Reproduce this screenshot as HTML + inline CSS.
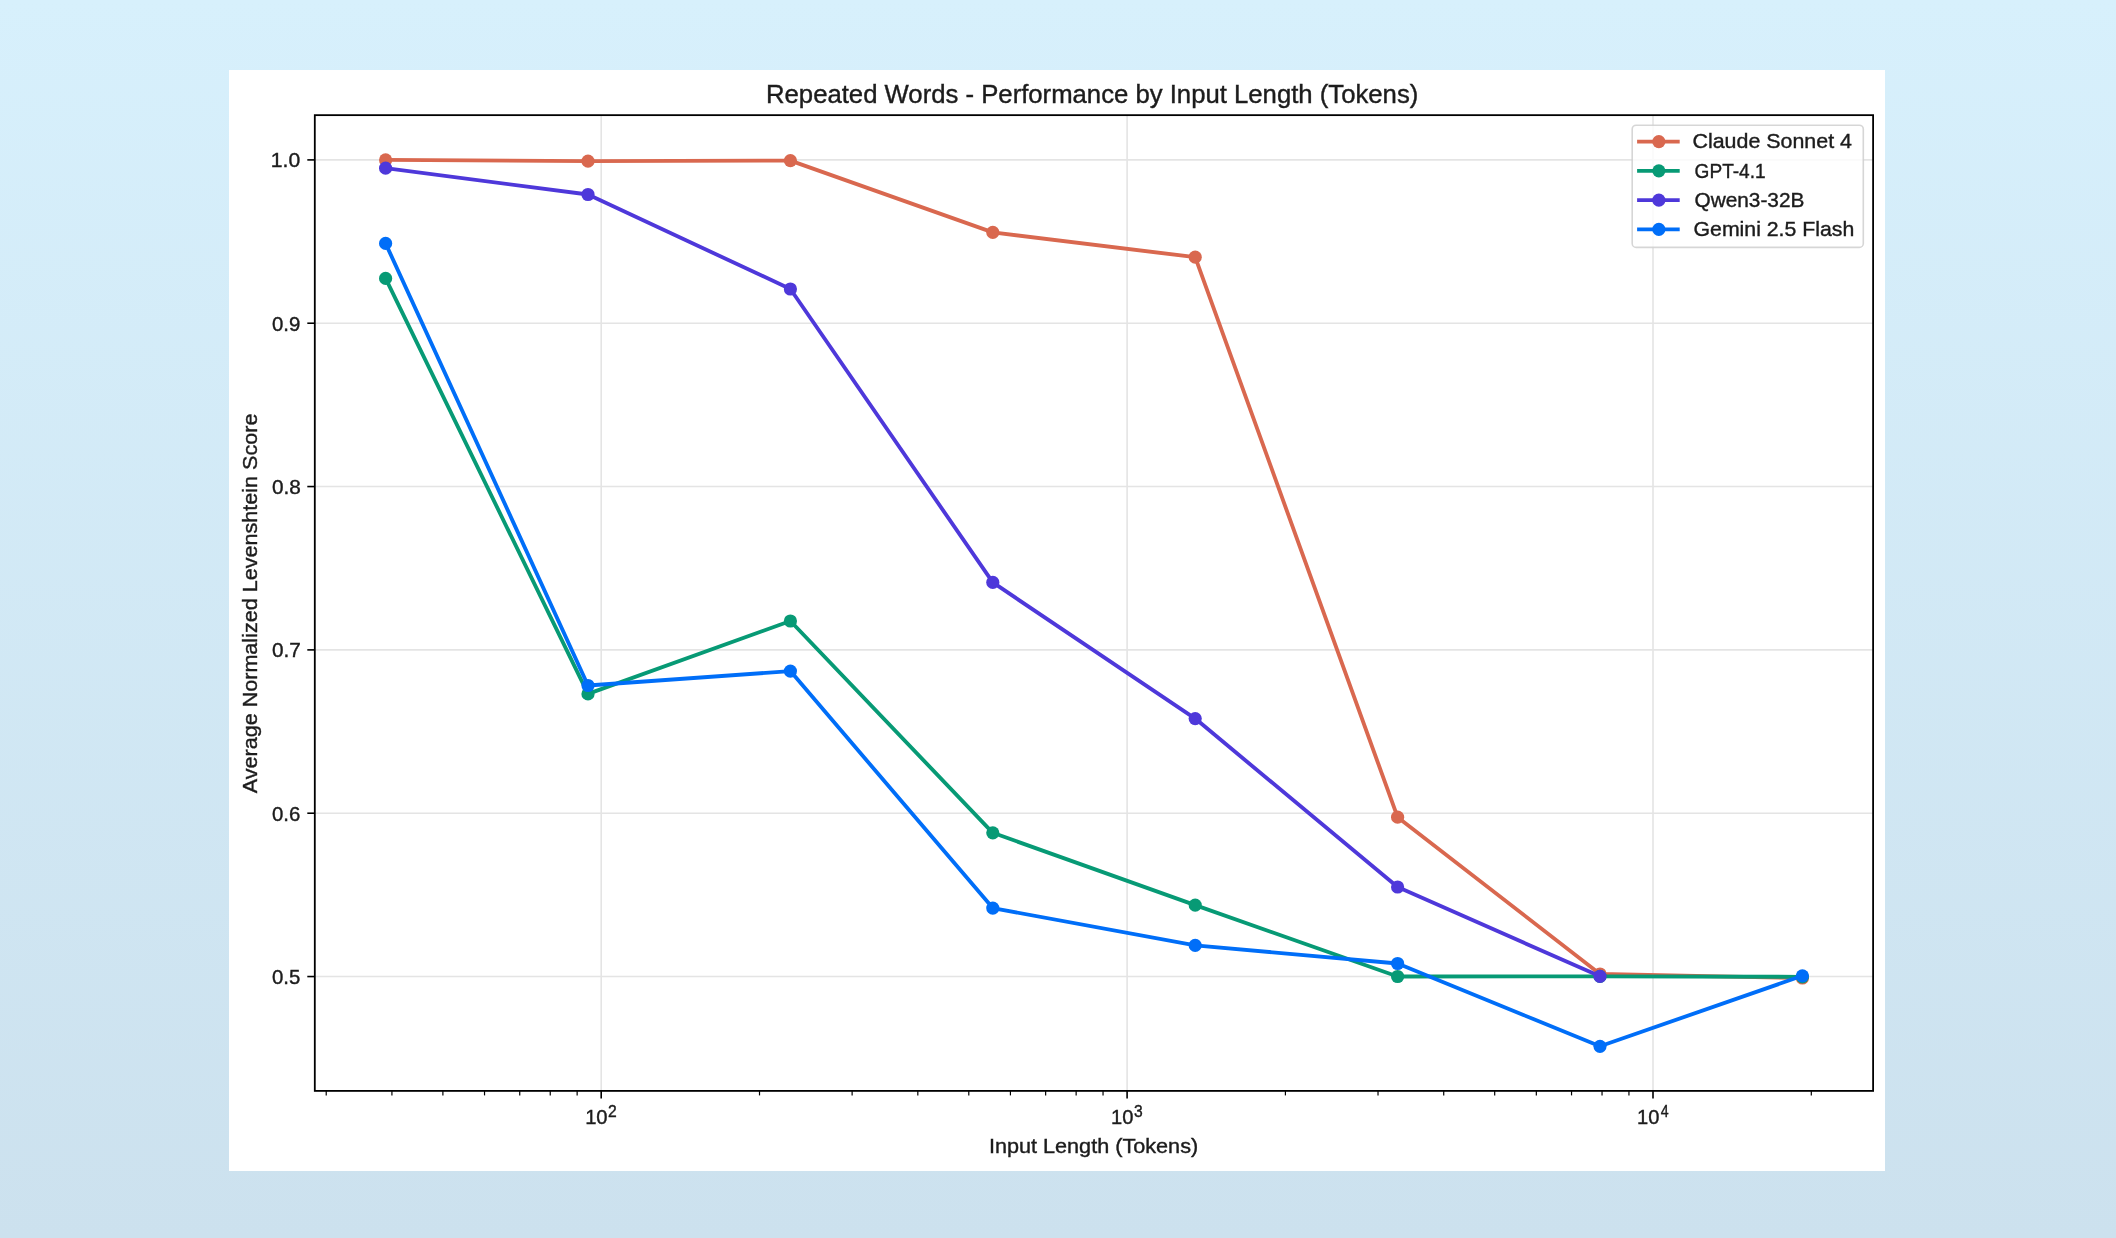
<!DOCTYPE html>
<html><head><meta charset="utf-8"><title>Repeated Words - Performance by Input Length</title>
<style>
html,body{margin:0;padding:0;width:2116px;height:1238px;overflow:hidden;background:#D2E9F6;}
svg{display:block;position:absolute;left:0;top:0;will-change:transform;}
text{font-family:"Liberation Sans", sans-serif;fill:#1c1c1c;stroke:#1c1c1c;stroke-width:0.4px;white-space:pre;}
</style></head><body>
<svg width="2116" height="1238" viewBox="0 0 2116 1238">
<defs><linearGradient id="bg" x1="0" y1="0" x2="0" y2="1">
<stop offset="0" stop-color="#D7F0FC"/><stop offset="1" stop-color="#CCE1EE"/></linearGradient></defs>
<rect x="0" y="0" width="2116" height="1238" fill="url(#bg)"/>
<rect x="229" y="70" width="1656" height="1101" fill="#FFFFFF"/>

<g stroke="#E4E4E4" stroke-width="1.6"><line x1="601.20" y1="115.15" x2="601.20" y2="1090.9"/><line x1="1127.10" y1="115.15" x2="1127.10" y2="1090.9"/><line x1="1653.00" y1="115.15" x2="1653.00" y2="1090.9"/><line x1="314.8" y1="976.55" x2="1873.1" y2="976.55"/><line x1="314.8" y1="813.22" x2="1873.1" y2="813.22"/><line x1="314.8" y1="649.89" x2="1873.1" y2="649.89"/><line x1="314.8" y1="486.56" x2="1873.1" y2="486.56"/><line x1="314.8" y1="323.23" x2="1873.1" y2="323.23"/><line x1="314.8" y1="159.90" x2="1873.1" y2="159.90"/></g>
<polyline points="385.60,159.90 588.00,161.20 790.40,160.60 992.80,232.40 1195.20,257.20 1397.60,817.20 1600.00,974.00 1802.40,978.00" fill="none" stroke="#D9684F" stroke-width="3.85" stroke-linejoin="round" stroke-linecap="butt"/>
<g fill="#D9684F"><circle cx="385.60" cy="159.90" r="6.6"/><circle cx="588.00" cy="161.20" r="6.6"/><circle cx="790.40" cy="160.60" r="6.6"/><circle cx="992.80" cy="232.40" r="6.6"/><circle cx="1195.20" cy="257.20" r="6.6"/><circle cx="1397.60" cy="817.20" r="6.6"/><circle cx="1600.00" cy="974.00" r="6.6"/><circle cx="1802.40" cy="978.00" r="6.6"/></g>
<polyline points="385.60,278.40 588.00,693.90 790.40,621.00 992.80,832.80 1195.20,905.10 1397.60,976.50 1600.00,976.40 1802.40,976.80" fill="none" stroke="#079A75" stroke-width="3.85" stroke-linejoin="round" stroke-linecap="butt"/>
<g fill="#079A75"><circle cx="385.60" cy="278.40" r="6.6"/><circle cx="588.00" cy="693.90" r="6.6"/><circle cx="790.40" cy="621.00" r="6.6"/><circle cx="992.80" cy="832.80" r="6.6"/><circle cx="1195.20" cy="905.10" r="6.6"/><circle cx="1397.60" cy="976.50" r="6.6"/><circle cx="1600.00" cy="976.40" r="6.6"/><circle cx="1802.40" cy="976.80" r="6.6"/></g>
<polyline points="385.60,168.20 588.00,194.50 790.40,289.00 992.80,582.45 1195.20,718.60 1397.60,887.00 1600.00,976.35" fill="none" stroke="#4E38DA" stroke-width="3.85" stroke-linejoin="round" stroke-linecap="butt"/>
<g fill="#4E38DA"><circle cx="385.60" cy="168.20" r="6.6"/><circle cx="588.00" cy="194.50" r="6.6"/><circle cx="790.40" cy="289.00" r="6.6"/><circle cx="992.80" cy="582.45" r="6.6"/><circle cx="1195.20" cy="718.60" r="6.6"/><circle cx="1397.60" cy="887.00" r="6.6"/><circle cx="1600.00" cy="976.35" r="6.6"/></g>
<polyline points="385.60,243.40 588.00,685.50 790.40,671.10 992.80,908.10 1195.20,945.45 1397.60,963.50 1600.00,1046.30 1802.40,975.80" fill="none" stroke="#006EF8" stroke-width="3.85" stroke-linejoin="round" stroke-linecap="butt"/>
<g fill="#006EF8"><circle cx="385.60" cy="243.40" r="6.6"/><circle cx="588.00" cy="685.50" r="6.6"/><circle cx="790.40" cy="671.10" r="6.6"/><circle cx="992.80" cy="908.10" r="6.6"/><circle cx="1195.20" cy="945.45" r="6.6"/><circle cx="1397.60" cy="963.50" r="6.6"/><circle cx="1600.00" cy="1046.30" r="6.6"/><circle cx="1802.40" cy="975.80" r="6.6"/></g>
<rect x="314.8" y="115.15" width="1558.30" height="975.75" fill="none" stroke="#000" stroke-width="1.8"/>
<g stroke="#000" stroke-width="1.6"><line x1="601.20" y1="1090.9" x2="601.20" y2="1098.40"/><line x1="1127.10" y1="1090.9" x2="1127.10" y2="1098.40"/><line x1="1653.00" y1="1090.9" x2="1653.00" y2="1098.40"/><line x1="307.30" y1="976.55" x2="314.8" y2="976.55"/><line x1="307.30" y1="813.22" x2="314.8" y2="813.22"/><line x1="307.30" y1="649.89" x2="314.8" y2="649.89"/><line x1="307.30" y1="486.56" x2="314.8" y2="486.56"/><line x1="307.30" y1="323.23" x2="314.8" y2="323.23"/><line x1="307.30" y1="159.90" x2="314.8" y2="159.90"/></g>
<g stroke="#000" stroke-width="1.2"><line x1="326.22" y1="1090.9" x2="326.22" y2="1095.40"/><line x1="391.92" y1="1090.9" x2="391.92" y2="1095.40"/><line x1="442.89" y1="1090.9" x2="442.89" y2="1095.40"/><line x1="484.53" y1="1090.9" x2="484.53" y2="1095.40"/><line x1="519.74" y1="1090.9" x2="519.74" y2="1095.40"/><line x1="550.24" y1="1090.9" x2="550.24" y2="1095.40"/><line x1="577.14" y1="1090.9" x2="577.14" y2="1095.40"/><line x1="759.51" y1="1090.9" x2="759.51" y2="1095.40"/><line x1="852.12" y1="1090.9" x2="852.12" y2="1095.40"/><line x1="917.82" y1="1090.9" x2="917.82" y2="1095.40"/><line x1="968.79" y1="1090.9" x2="968.79" y2="1095.40"/><line x1="1010.43" y1="1090.9" x2="1010.43" y2="1095.40"/><line x1="1045.64" y1="1090.9" x2="1045.64" y2="1095.40"/><line x1="1076.14" y1="1090.9" x2="1076.14" y2="1095.40"/><line x1="1103.04" y1="1090.9" x2="1103.04" y2="1095.40"/><line x1="1285.41" y1="1090.9" x2="1285.41" y2="1095.40"/><line x1="1378.02" y1="1090.9" x2="1378.02" y2="1095.40"/><line x1="1443.72" y1="1090.9" x2="1443.72" y2="1095.40"/><line x1="1494.69" y1="1090.9" x2="1494.69" y2="1095.40"/><line x1="1536.33" y1="1090.9" x2="1536.33" y2="1095.40"/><line x1="1571.54" y1="1090.9" x2="1571.54" y2="1095.40"/><line x1="1602.04" y1="1090.9" x2="1602.04" y2="1095.40"/><line x1="1628.94" y1="1090.9" x2="1628.94" y2="1095.40"/><line x1="1811.31" y1="1090.9" x2="1811.31" y2="1095.40"/></g>
<text x="271.98" y="984.05" font-size="21" textLength="28.35" lengthAdjust="spacingAndGlyphs">0.5</text>
<text x="271.98" y="820.72" font-size="21" textLength="28.35" lengthAdjust="spacingAndGlyphs">0.6</text>
<text x="272.00" y="657.39" font-size="21" textLength="28.89" lengthAdjust="spacingAndGlyphs">0.7</text>
<text x="272.00" y="494.06" font-size="21" textLength="28.89" lengthAdjust="spacingAndGlyphs">0.8</text>
<text x="271.98" y="330.73" font-size="21" textLength="28.35" lengthAdjust="spacingAndGlyphs">0.9</text>
<text x="270.87" y="167.40" font-size="21" textLength="29.40" lengthAdjust="spacingAndGlyphs">1.0</text>
<text x="585.13" y="1123.60" font-size="21" textLength="22.49" lengthAdjust="spacingAndGlyphs">10</text><text x="608.09" y="1116.90" font-size="16.2" textLength="8.72" lengthAdjust="spacingAndGlyphs">2</text>
<text x="1111.09" y="1123.60" font-size="21" textLength="22.38" lengthAdjust="spacingAndGlyphs">10</text><text x="1134.08" y="1116.90" font-size="16.2" textLength="8.72" lengthAdjust="spacingAndGlyphs">3</text>
<text x="1637.06" y="1123.60" font-size="21" textLength="22.38" lengthAdjust="spacingAndGlyphs">10</text><text x="1660.86" y="1116.90" font-size="16.2" textLength="7.88" lengthAdjust="spacingAndGlyphs">4</text>
<text x="765.99" y="103.10" font-size="25.5" textLength="652.33" lengthAdjust="spacingAndGlyphs">Repeated Words - Performance by Input Length (Tokens)</text>
<text x="988.92" y="1152.70" font-size="21" textLength="209.25" lengthAdjust="spacingAndGlyphs">Input Length (Tokens)</text>
<g transform="translate(257,793.30) rotate(-90)"><text x="0.00" y="0.00" font-size="21" textLength="379.71" lengthAdjust="spacingAndGlyphs">Average Normalized Levenshtein Score</text></g>
<rect x="1632.2" y="125.2" width="231.1" height="122.2" rx="4" ry="4" fill="#FFFFFF" fill-opacity="0.8" stroke="#CCCCCC" stroke-opacity="0.8" stroke-width="1.6"/>
<line x1="1637.1" y1="141.60" x2="1679.7" y2="141.60" stroke="#D9684F" stroke-width="3.85"/><circle cx="1658.85" cy="141.60" r="6.6" fill="#D9684F"/>
<text x="1692.44" y="148.25" font-size="21" textLength="159.55" lengthAdjust="spacingAndGlyphs">Claude Sonnet 4</text>
<line x1="1637.1" y1="170.85" x2="1679.7" y2="170.85" stroke="#079A75" stroke-width="3.85"/><circle cx="1658.85" cy="170.85" r="6.6" fill="#079A75"/>
<text x="1694.62" y="177.50" font-size="21" textLength="71.03" lengthAdjust="spacingAndGlyphs">GPT-4.1</text>
<line x1="1637.1" y1="200.10" x2="1679.7" y2="200.10" stroke="#4E38DA" stroke-width="3.85"/><circle cx="1658.85" cy="200.10" r="6.6" fill="#4E38DA"/>
<text x="1694.47" y="206.75" font-size="21" textLength="109.89" lengthAdjust="spacingAndGlyphs">Qwen3-32B</text>
<line x1="1637.1" y1="229.35" x2="1679.7" y2="229.35" stroke="#006EF8" stroke-width="3.85"/><circle cx="1658.85" cy="229.35" r="6.6" fill="#006EF8"/>
<text x="1693.50" y="236.00" font-size="21" textLength="160.79" lengthAdjust="spacingAndGlyphs">Gemini 2.5 Flash</text>
</svg></body></html>
